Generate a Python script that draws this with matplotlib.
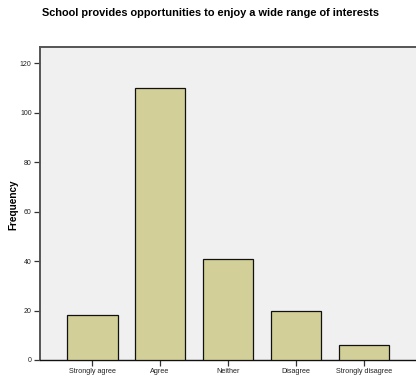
import matplotlib
matplotlib.use("Agg")
import matplotlib.pyplot as plt

categories = ["Strongly agree", "Agree", "Neither", "Disagree", "Strongly disagree"]
frequencies = [18, 110, 41, 20, 6]
yticks = [0, 20, 40, 60, 80, 100, 120]

plt.rcParams['font.family'] = ['Liberation Sans', 'DejaVu Sans']

fig = plt.figure(figsize=(4.16, 3.8), dpi=100)
ax_w = 1 - 40/416 + 0.01
ax = fig.add_axes([40/416, 1-360/380, ax_w, (360-47)/380])
ax.set_facecolor('#f0f0f0')

x = list(range(len(categories)))
ax.bar(x, frequencies, width=0.745, color='#d3cf98', edgecolor='#111111', linewidth=0.9, zorder=3)

ax.set_xlim(-0.77, 4.83)
ax.set_ylim(0, 126.5)
ax.set_yticks(yticks)
ax.set_yticklabels([str(t) for t in yticks], fontsize=5.0, color='#222222')
ax.set_xticks(x)
ax.set_xticklabels(categories, fontsize=5.2, color='#222222')
ax.tick_params(axis='both', direction='out', length=4, width=0.9, color='#333333', pad=2)

for s in ['top', 'left']:
    ax.spines[s].set_color('#555555')
    ax.spines[s].set_linewidth(1.4)
ax.spines['bottom'].set_color('#111111')
ax.spines['bottom'].set_linewidth(1.0)
ax.spines['right'].set_visible(False)

ax.set_ylabel('Frequency', fontsize=7.2, fontweight='bold')
ax.yaxis.set_label_coords(-22/(ax_w*416), 0.495)
fig.text(0.5 + 3/416, 1-13/380, 'School provides opportunities to enjoy a wide range of interests',
         ha='center', va='center', fontsize=7.9, fontweight='bold')

fig.savefig('out.png', dpi=100)
